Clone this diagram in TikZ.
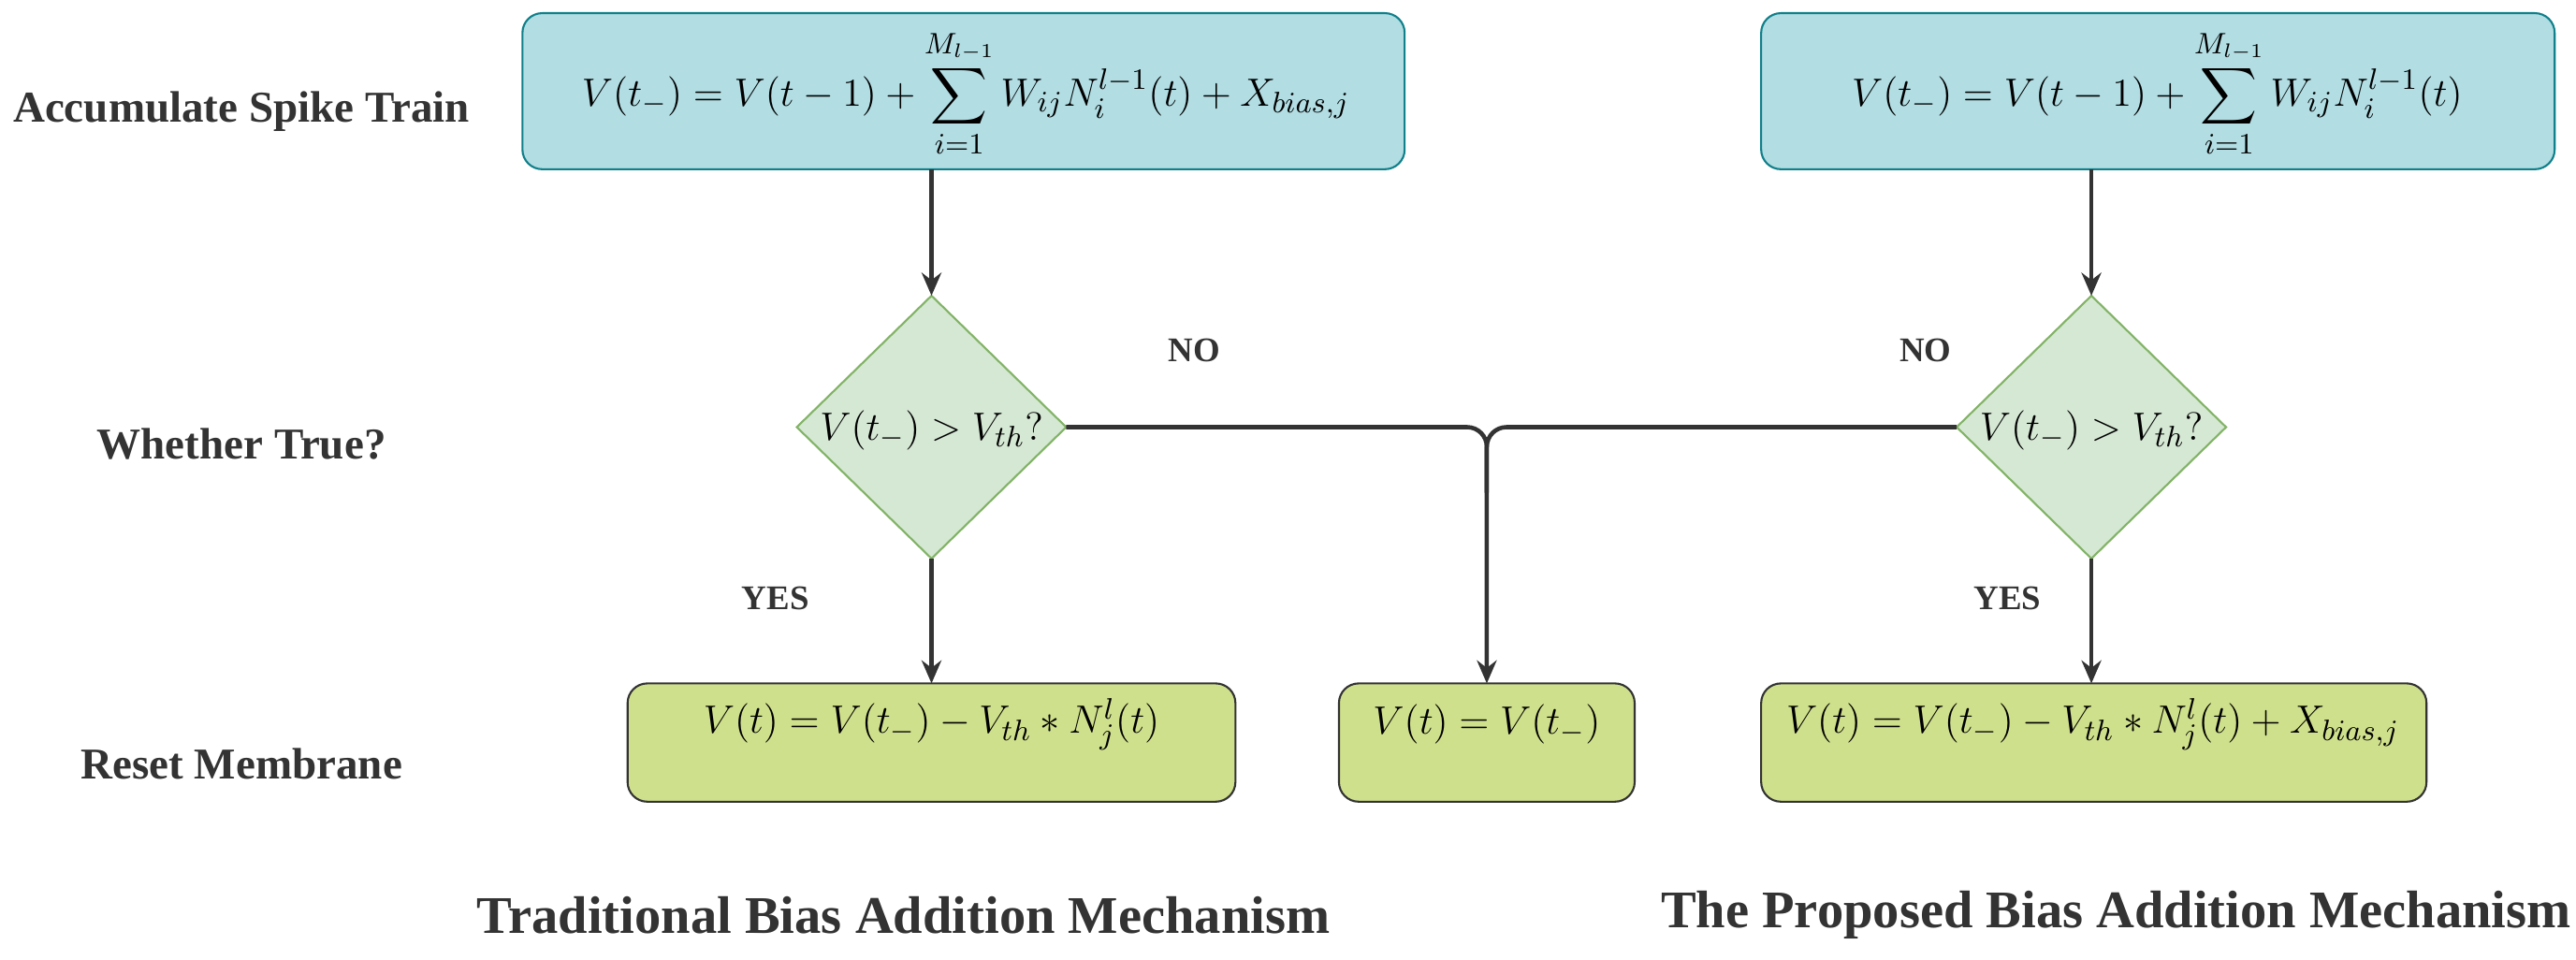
\documentclass[tikz,border=0pt]{standalone}
\usepackage{fontspec}
\setmainfont{Liberation Serif}
\usepackage{amsmath}
\usetikzlibrary{shapes.geometric,arrows.meta}
\definecolor{cyanf}{HTML}{B1DDE3}\definecolor{cyand}{HTML}{10808A}
\definecolor{grnf}{HTML}{D5E8D4}\definecolor{grnd}{HTML}{82B366}
\definecolor{limef}{HTML}{CFE08C}\definecolor{lined}{HTML}{333333}
\begin{document}
\begin{tikzpicture}[x=0.5pt,y=-0.5pt,
 topbox/.style={draw=cyand,fill=cyanf,rounded corners=6pt,line width=0.6pt},
 dia/.style={draw=grnd,fill=grnf,line width=0.6pt},
 botbox/.style={draw=lined,fill=limef,rounded corners=6pt,line width=0.6pt},
 lab/.style={font=\bfseries\fontsize{13.4}{16}\selectfont,text=lined},
 yn/.style={font=\bfseries\fontsize{10.5}{12}\selectfont,text=lined},
 ttl/.style={font=\bfseries\fontsize{16.1}{19}\selectfont,text=lined},
 conn/.style={draw=lined,line width=1.3pt,-{Stealth[length=7pt,width=6pt]}},
 fm/.style={font=\fontsize{12.4}{14}\selectfont}]
\useasboundingbox (0,0) rectangle (1568,584);
\draw[topbox] (318,8) rectangle (855,103);
\node[fm] (t1) at (588,57) {$\displaystyle V(t_-)=V(t-1)+\sum_{i=1}^{M_{l-1}}W_{ij}N_i^{l-1}(t)+X_{bias,j}$};
\draw[topbox] (1072,8) rectangle (1555,103);
\node[fm] (t2) at (1313,57) {$\displaystyle V(t_-)=V(t-1)+\sum_{i=1}^{M_{l-1}}W_{ij}N_i^{l-1}(t)$};
\draw[dia] (567,180) -- (649,260) -- (567,340) -- (485,260) -- cycle;
\node[fm] (d1) at (567,262) {$V(t_-)>V_{th}?$};
\draw[dia] (1273,180) -- (1355,260) -- (1273,340) -- (1191,260) -- cycle;
\node[fm] (d2) at (1273,262) {$V(t_-)>V_{th}?$};
\draw[botbox] (382,416) rectangle (752,488);
\node[fm] (b1) at (567,441) {$V(t)=V(t_-)-V_{th}*N_j^l(t)$};
\draw[botbox] (815,416) rectangle (995,488);
\node[fm] (b2) at (905,441) {$V(t)=V(t_-)$};
\draw[botbox] (1072,416) rectangle (1477,488);
\node[fm] (b3) at (1274,441) {$V(t)=V(t_-)-V_{th}*N_j^l(t)+X_{bias,j}$};
\coordinate (a1) at (567,103); \coordinate (a2) at (567,180);
\coordinate (a3) at (567,340); \coordinate (a4) at (567,416);
\coordinate (c1) at (1273,103); \coordinate (c2) at (1273,180);
\coordinate (c3) at (1273,340); \coordinate (c4) at (1273,416);
\coordinate (l) at (649,260); \coordinate (r) at (1191,260);
\coordinate (m) at (905,260); \coordinate (mb) at (905,416);
\draw[conn] (a1) -- (a2); \draw[conn] (a3) -- (a4);
\draw[conn] (c1) -- (c2); \draw[conn] (c3) -- (c4);
\draw[conn,rounded corners=6pt] (l) -- (m) -- (mb);
\draw[draw=lined,line width=1.3pt,rounded corners=6pt] (r) -- (m) -- (905,300);
\node[lab] (s1) at (147,68) {Accumulate Spike Train};
\node[lab] (s2) at (147,270) {Whether True?};
\node[lab] (s3) at (147,465) {Reset Membrane};
\node[yn] (n1) at (727,213) {NO};
\node[yn] (n2) at (1172,213) {NO};
\node[yn] (y1) at (472,364) {YES};
\node[yn] (y2) at (1222,364) {YES};
\node[ttl] (T1) at (550,557) {Traditional Bias Addition Mechanism};
\node[ttl] (T2) at (1288,557) {The Proposed Bias Addition Mechanism};
\end{tikzpicture}
\end{document}
